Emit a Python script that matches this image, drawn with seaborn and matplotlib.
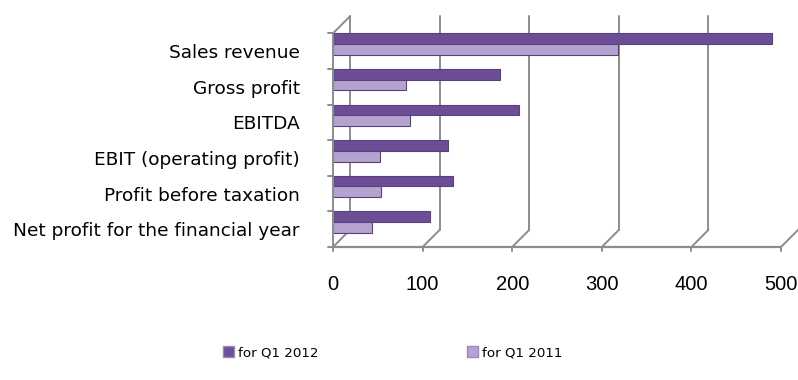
import matplotlib
matplotlib.use("Agg")
import matplotlib.pyplot as plt
from matplotlib.patches import Patch
import seaborn as sns
import pandas as pd

categories = [
    "Sales revenue",
    "Gross profit",
    "EBITDA",
    "EBIT (operating profit)",
    "Profit before taxation",
    "Net profit for the financial year",
]
q1_2012 = [490, 186, 208, 128, 134, 108]
q1_2011 = [318, 81, 86, 52, 54, 44]
series_names = ["for Q1 2012", "for Q1 2011"]
x_ticks = [0, 100, 200, 300, 400, 500]

dark = "#6b4e96"
light = "#b4a3cf"
grid_col = "#8c8c8c"

df = pd.DataFrame({
    "item": categories * 2,
    "value": q1_2012 + q1_2011,
    "period": [series_names[0]] * len(categories) + [series_names[1]] * len(categories),
})

sns.set_theme(style="white")
plt.rcParams["font.family"] = ["DejaVu Sans"]
plt.rcParams["text.color"] = "black"
plt.rcParams["xtick.color"] = "black"
plt.rcParams["ytick.color"] = "black"

fig = plt.figure(figsize=(7.98, 3.80), dpi=100)
ax = fig.add_axes([333 / 798, (380 - 247) / 380, 448 / 798, 230.75 / 380])

sns.barplot(
    data=df, y="item", x="value", hue="period", order=categories,
    hue_order=series_names, palette=[dark, light], width=0.6, dodge=True,
    orient="h", ax=ax, legend=False, edgecolor="#5a4080", linewidth=0.8,
    saturation=1, zorder=3,
)

n = len(categories)
y_bottom, y_top = n - 0.3, -0.3
depth_x, depth_y = 19, 0.48

# pseudo-3D frame: floor diagonals, back-wall gridlines, front axes
line_kw = dict(color=grid_col, lw=1.4, clip_on=False, zorder=1)
for t in x_ticks:
    ax.plot([t, t + depth_x], [y_bottom, y_bottom - depth_y], **line_kw)
    if t < x_ticks[-1]:
        ax.plot([t + depth_x] * 2, [y_bottom - depth_y, y_top - depth_y], **line_kw)
ax.plot([0, x_ticks[-1]], [y_bottom, y_bottom], color=grid_col, lw=1.6, clip_on=False, zorder=4)
ax.plot([0, 0], [y_bottom, y_top], color=grid_col, lw=1.4, clip_on=False, zorder=4)
ax.plot([0, depth_x], [y_top, y_top - depth_y], **line_kw)
for k in range(n + 1):
    yb = k - 0.3
    ax.plot([-5.5, 0], [yb, yb], color=grid_col, lw=1.4, clip_on=False, zorder=4)
for t in x_ticks:
    ax.plot([t, t], [y_bottom, y_bottom + 0.1], color=grid_col, lw=1.4, clip_on=False, zorder=4)

ax.set_xlim(0, 500)
ax.set_ylim(y_bottom, y_top - depth_y)
ax.set_xticks(x_ticks)
ax.set_xticklabels([str(t) for t in x_ticks], fontfamily="Liberation Sans", fontsize=14.5, color="black")
ax.set_yticks([k + 0.2 for k in range(n)])
ax.set_yticklabels(categories, fontsize=13.3, color="black")
ax.tick_params(axis="x", length=0, pad=20)
ax.tick_params(axis="y", length=0, pad=24)
ax.set_xlabel("")
ax.set_ylabel("")
for s in ax.spines.values():
    s.set_visible(False)

handles = [Patch(facecolor=dark, edgecolor="#9a8ab8"), Patch(facecolor=light, edgecolor="#9a8ab8")]
fig.legend(
    handles, series_names, loc="center", bbox_to_anchor=(0.492, 0.072), ncol=2,
    frameon=False, fontsize=9.6, handlelength=0.8, handleheight=0.8,
    handletextpad=0.3, columnspacing=11.2,
)

fig.savefig("out.png", dpi=100)
